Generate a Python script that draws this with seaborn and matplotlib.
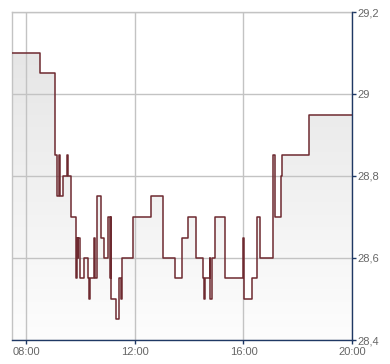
import numpy as np
import pandas as pd
import matplotlib
matplotlib.use("Agg")
import matplotlib.pyplot as plt
import matplotlib.dates as mdates
from matplotlib.ticker import FuncFormatter
from matplotlib.colors import LinearSegmentedColormap
import seaborn as sns

times = ["07:28", "08:31", "09:02", "09:08", "09:13", "09:14", "09:20", "09:30", "09:32",
         "09:39", "09:49", "09:51", "09:53", "09:55", "09:59", "10:08", "10:17", "10:19",
         "10:21", "10:30", "10:31", "10:35", "10:44", "10:51", "11:01", "11:04", "11:06",
         "11:08", "11:17", "11:25", "11:29", "11:32", "11:56", "12:36", "13:02", "13:29",
         "13:44", "13:58", "14:15", "14:31", "14:33", "14:34", "14:45", "14:46", "14:51",
         "14:58", "15:18", "15:19", "16:00", "16:01", "16:19", "16:30", "16:37", "17:06",
         "17:09", "17:24", "17:25", "18:25", "20:00"]
prices = [29.1, 29.05, 28.85, 28.75, 28.85, 28.75, 28.8, 28.85, 28.8,
          28.7, 28.55, 28.65, 28.6, 28.65, 28.55, 28.6, 28.55, 28.5,
          28.55, 28.65, 28.55, 28.75, 28.65, 28.6, 28.7, 28.55, 28.7,
          28.5, 28.45, 28.55, 28.5, 28.6, 28.7, 28.75, 28.6, 28.55,
          28.65, 28.7, 28.6, 28.55, 28.5, 28.55, 28.6, 28.5, 28.6,
          28.7, 28.65, 28.55, 28.65, 28.5, 28.55, 28.7, 28.6, 28.85,
          28.7, 28.8, 28.85, 28.95, 28.95]
x_ticks = ["08:00", "12:00", "16:00", "20:00"]
y_ticks = [28.4, 28.6, 28.8, 29.0, 29.2]

day = "2024-01-02 "
df = pd.DataFrame({"time": pd.to_datetime([day + t for t in times]), "price": prices})

sns.set_style("white")
plt.rcParams["font.family"] = ["Liberation Sans", "DejaVu Sans"]

fig = plt.figure(figsize=(3.9, 3.64), dpi=100)
ax = fig.add_axes([12 / 390, 1 - 340 / 364, 340 / 390, 328 / 364])

x0 = pd.Timestamp(day + times[0])
x1 = pd.Timestamp(day + "20:00")
ymin, ymax = 28.4, 29.2

# gradient fill below the line
poly = ax.fill_between(df["time"], df["price"], ymin, step="post", color="none", lw=0)
grad = np.linspace(0, 1, 256).reshape(-1, 1)
cmap = LinearSegmentedColormap.from_list("g", ["#fdfdfd", "#e6e6e6"])
im = ax.imshow(grad, cmap=cmap, aspect="auto", origin="lower",
               extent=[mdates.date2num(x0), mdates.date2num(x1), ymin, 29.1],
               zorder=1)
path = poly.get_paths()[0]
im.set_clip_path(path, transform=ax.transData)

sns.lineplot(data=df, x="time", y="price", drawstyle="steps-post", color="#6e2a30",
             lw=1.1, ax=ax, zorder=3)

ax.set_xlim(x0, x1)
ax.set_ylim(ymin, ymax)

ax.set_xticks(pd.to_datetime([day + t for t in x_ticks]))
ax.xaxis.set_major_formatter(mdates.DateFormatter("%H:%M"))
ax.set_yticks(y_ticks)
ax.yaxis.set_major_formatter(FuncFormatter(lambda v, p: (f"{v:.1f}".rstrip("0").rstrip(".")).replace(".", ",")))
ax.yaxis.tick_right()

ax.grid(True, color="#c3c3c3", lw=1.0)
ax.set_axisbelow("line")
ax.set_xlabel("")
ax.set_ylabel("")

navy = "#1f3864"
for s in ["top", "left"]:
    ax.spines[s].set_color("#c3c3c3")
    ax.spines[s].set_linewidth(1.0)
for s in ["right", "bottom"]:
    ax.spines[s].set_color(navy)
    ax.spines[s].set_linewidth(1.0)
    ax.spines[s].set_zorder(5)

ax.tick_params(axis="both", which="major", direction="out", length=3, width=1,
               color=navy, labelcolor="#666666", labelsize=8, pad=1)
ax.tick_params(axis="x", bottom=True, pad=2)
ax.tick_params(axis="y", right=True, left=False)

fig.savefig("out.png", dpi=100)
